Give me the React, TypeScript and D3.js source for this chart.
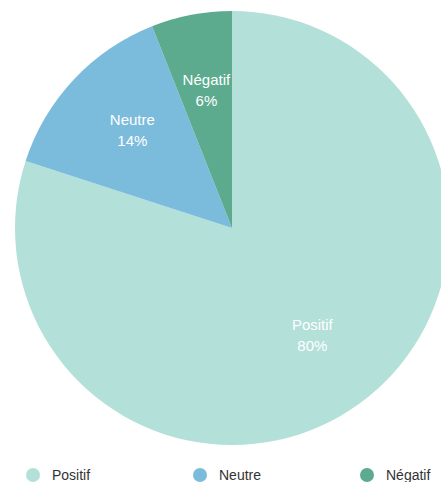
import React, { useRef, useEffect } from "react";
import * as d3 from "d3";

const categories = ["Positif", "Neutre", "Négatif"];
const values = [80, 14, 6];
const colors = ["#b3e0d9", "#7bbcdc", "#5cab8e"];

const App = () => {
  const ref = useRef<SVGSVGElement | null>(null);

  useEffect(() => {
    if (!ref.current) return;
    const svg = d3.select(ref.current);
    svg.selectAll("*").remove();

    const cx = 232;
    const cy = 228;
    const radius = 217;
    const font = "'Liberation Sans', Arial, Helvetica, sans-serif";

    const color = d3.scaleOrdinal<string, string>().domain(categories).range(colors);

    const pie = d3
      .pie<number>()
      .sort(null)
      .value((d) => d);
    const arcs = pie(values);

    const arc = d3.arc<d3.PieArcDatum<number>>().innerRadius(0).outerRadius(radius);
    const labelArc = d3
      .arc<d3.PieArcDatum<number>>()
      .innerRadius(radius * 0.63)
      .outerRadius(radius * 0.63);

    const g = svg.append("g").attr("transform", `translate(${cx},${cy})`);

    g.selectAll("path")
      .data(arcs)
      .enter()
      .append("path")
      .attr("d", arc)
      .attr("fill", (_, i) => color(categories[i]));

    // slice labels
    const labels = g
      .selectAll(".slice-label")
      .data(arcs)
      .enter()
      .append("text")
      .attr("class", "slice-label")
      .attr("transform", (d) => {
        const [x, y] = labelArc.centroid(d);
        return `translate(${x},${y})`;
      })
      .attr("text-anchor", "middle")
      .style("font-family", font)
      .style("font-size", "15px")
      .style("fill", "#ffffff");

    labels
      .append("tspan")
      .attr("x", 0)
      .attr("dy", "-0.6em")
      .text((_, i) => categories[i]);
    labels
      .append("tspan")
      .attr("x", 0)
      .attr("dy", "1.4em")
      .text((d) => `${d.data}%`);

    // legend
    const lx = d3.scalePoint<string>().domain(categories).range([33, 367]);
    const legend = svg
      .append("g")
      .selectAll("g")
      .data(categories)
      .enter()
      .append("g")
      .attr("transform", (d) => `translate(${lx(d)},475)`);

    legend
      .append("circle")
      .attr("r", 7)
      .attr("fill", (d) => color(d));

    legend
      .append("text")
      .attr("x", 19)
      .attr("dy", "0.35em")
      .style("font-family", font)
      .style("font-size", "14px")
      .style("fill", "#333333")
      .text((d) => d);
  }, []);

  return (
    <svg
      ref={ref}
      width={441}
      height={482}
      style={{ position: "absolute", left: 0, top: 0, display: "block" }}
    />
  );
};

export default App;
